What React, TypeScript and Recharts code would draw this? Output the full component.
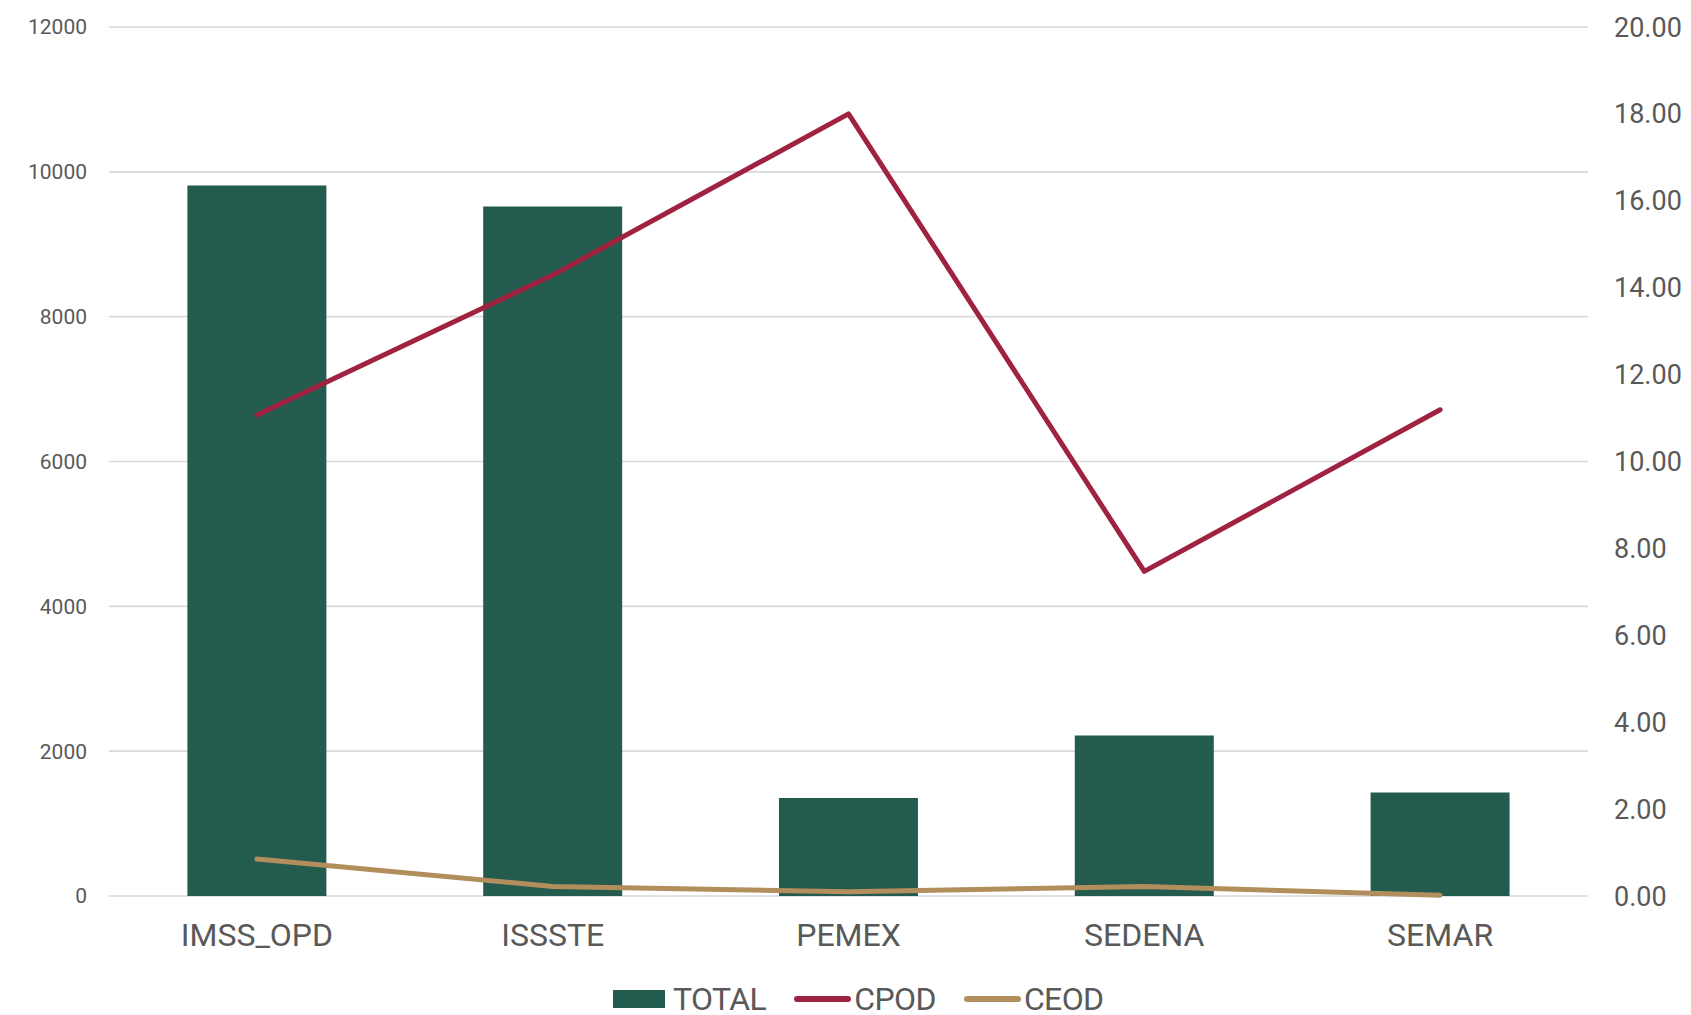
import React from 'react';
import { ComposedChart, Bar, Line, XAxis, YAxis, CartesianGrid, Legend } from 'recharts';

const categories = ['IMSS_OPD', 'ISSSTE', 'PEMEX', 'SEDENA', 'SEMAR'];
const totalValues = [9810, 9520, 1355, 2215, 1430];
const cpodValues = [11.07, 14.29, 18.0, 7.47, 11.19];
const ceodValues = [0.85, 0.22, 0.1, 0.22, 0.02];
const leftTicks = [0, 2000, 4000, 6000, 8000, 10000, 12000];
const rightTicks = [0, 2, 4, 6, 8, 10, 12, 14, 16, 18, 20];
const seriesNames = ['TOTAL', 'CPOD', 'CEOD'];

const data = categories.map((c, i) => ({
  name: c,
  TOTAL: totalValues[i],
  CPOD: cpodValues[i],
  CEOD: ceodValues[i],
}));

const COLORS: Record<string, string> = { TOTAL: '#235B4E', CPOD: '#9F2241', CEOD: '#B38E5D' };
const TEXT = '#595959';
const FONT = 'Roboto, "Noto Sans", sans-serif';

const LegendContent = () => {
  return (
    <div style={{ height: 36, boxSizing: 'border-box', paddingTop: 4, display: 'flex', alignItems: 'center', paddingLeft: 613, fontFamily: FONT, fontSize: 32, color: TEXT }}>
      {seriesNames.map((name, i) => (
        <div key={name} style={{ display: 'flex', alignItems: 'center', marginRight: i < 2 ? 28 : 0 }}>
          {i === 0 ? (
            <div style={{ width: 52, height: 18, background: COLORS[name] }} />
          ) : (
            <div style={{ width: 57, height: 6, borderRadius: 3, background: COLORS[name] }} />
          )}
          <span style={{ marginLeft: i === 0 ? 8 : 3, letterSpacing: -0.6 }}>{name}</span>
        </div>
      ))}
    </div>
  );
};

export default function App() {
  return (
    <div style={{ position: 'absolute', left: 0, top: 0, width: 1691, height: 1015, background: '#fff' }}>
      <ComposedChart
        width={1691}
        height={1015}
        data={data}
        margin={{ top: 27, right: 0, bottom: 0, left: 0 }}
        barCategoryGap="26.5%"
      >
        <CartesianGrid yAxisId="left" vertical={false} stroke="#d9d9d9" strokeWidth={1.6} />
        <XAxis
          dataKey="name"
          axisLine={false}
          tickLine={false}
          tickSize={0}
          tickMargin={27}
          height={83}
          tick={{ fill: TEXT, fontSize: 32, fontFamily: FONT }}
        />
        <YAxis
          yAxisId="left"
          orientation="left"
          width={109}
          domain={[0, 12000]}
          ticks={leftTicks}
          axisLine={false}
          tickLine={false}
          tickSize={0}
          tickMargin={22}
          tick={{ fill: TEXT, fontSize: 21, fontFamily: FONT }}
        />
        <YAxis
          yAxisId="right"
          orientation="right"
          width={103}
          domain={[0, 20]}
          ticks={rightTicks}
          axisLine={false}
          tickLine={false}
          tickSize={0}
          tickMargin={26}
          tickFormatter={(v: number) => v.toFixed(2)}
          tick={{ fill: TEXT, fontSize: 27, fontFamily: FONT }}
        />
        <Legend verticalAlign="bottom" content={<LegendContent />} />
        <Bar yAxisId="left" dataKey="TOTAL" fill={COLORS.TOTAL} isAnimationActive={false} />
        <Line yAxisId="right" type="linear" dataKey="CPOD" stroke={COLORS.CPOD} strokeWidth={5} dot={false} activeDot={false} strokeLinecap="round" strokeLinejoin="round" isAnimationActive={false} />
        <Line yAxisId="right" type="linear" dataKey="CEOD" stroke={COLORS.CEOD} strokeWidth={5} dot={false} activeDot={false} strokeLinecap="round" strokeLinejoin="round" isAnimationActive={false} />
      </ComposedChart>
    </div>
  );
}
